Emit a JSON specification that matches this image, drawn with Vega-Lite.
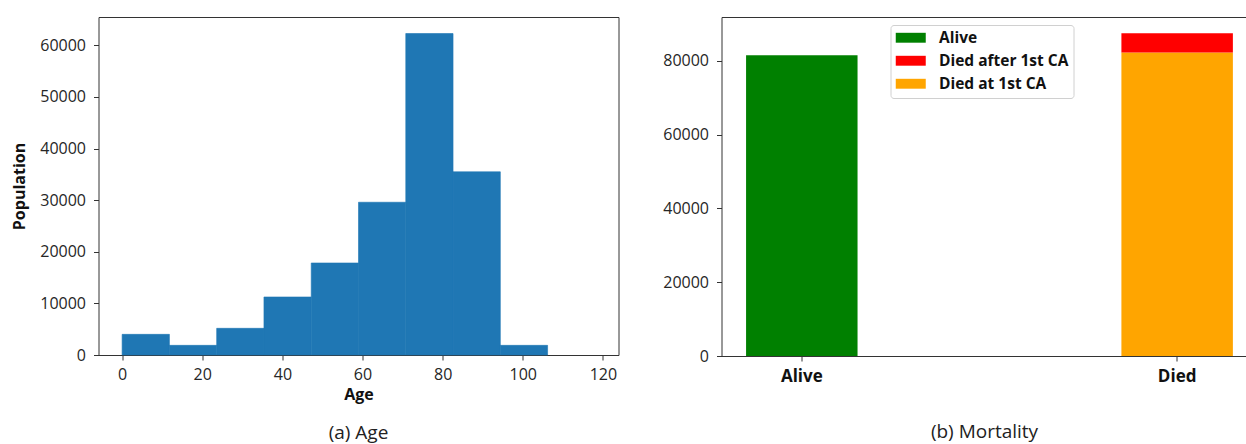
{
  "$schema": "https://vega.github.io/schema/vega-lite/v6.json",
  "padding": {"left": 10.5, "top": 16, "right": 0, "bottom": 0},
  "background": "white",
  "spacing": 43,
  "config": {
    "font": "Open Sans",
    "view": {"stroke": "#333333", "strokeWidth": 1},
    "axis": {
      "grid": false,
      "domain": false,
      "labelFont": "Open Sans",
      "labelFontSize": 16,
      "labelColor": "#262626",
      "tickColor": "#333333",
      "tickSize": 5,
      "tickWidth": 1,
      "titleFont": "Open Sans",
      "titleFontSize": 16,
      "titleFontWeight": "bold",
      "titleColor": "#111111"
    },
    "title": {"font": "Open Sans", "fontSize": 19, "fontWeight": "normal", "color": "#222222", "anchor": "middle"}
  },
  "datasets": {
    "ages": [
      {"age_start": 0, "age_end": 11.8, "count": 4000},
      {"age_start": 11.8, "age_end": 23.6, "count": 1870},
      {"age_start": 23.6, "age_end": 35.4, "count": 5170},
      {"age_start": 35.4, "age_end": 47.2, "count": 11240},
      {"age_start": 47.2, "age_end": 59.0, "count": 17830},
      {"age_start": 59.0, "age_end": 70.8, "count": 29600},
      {"age_start": 70.8, "age_end": 82.6, "count": 62300},
      {"age_start": 82.6, "age_end": 94.4, "count": 35500},
      {"age_start": 94.4, "age_end": 106.2, "count": 1870},
      {"age_start": 106.2, "age_end": 118.0, "count": 0}
    ],
    "mortality": [
      {"outcome": "Alive", "status": "Alive", "count": 81500},
      {"outcome": "Died", "status": "Died at 1st CA", "count": 82250},
      {"outcome": "Died", "status": "Died after 1st CA", "count": 5250}
    ]
  },
  "hconcat": [
    {
      "width": 520,
      "height": 338,
      "title": {"text": "(a) Age", "orient": "bottom", "offset": 22},
      "data": {"name": "ages"},
      "mark": {"type": "bar", "color": "#1f77b4", "stroke": "#1f77b4", "strokeWidth": 0.6},
      "encoding": {
        "x": {
          "field": "age_start",
          "type": "quantitative",
          "scale": {"domain": [-5.9, 123.9], "nice": false, "zero": false},
          "axis": {"values": [0, 20, 40, 60, 80, 100, 120], "title": "Age", "labelPadding": 6, "titlePadding": 4, "labelFlush": false}
        },
        "x2": {"field": "age_end"},
        "y": {
          "field": "count",
          "type": "quantitative",
          "scale": {"domain": [0, 65500], "nice": false},
          "axis": {"values": [0, 10000, 20000, 30000, 40000, 50000, 60000], "title": "Population", "labelPadding": 8, "titlePadding": 12, "format": "d"}
        },
        "y2": {"datum": 0},
        "strokeOpacity": {"condition": {"test": "datum.count == 0", "value": 0}, "value": 1}
      }
    },
    {
      "width": 526,
      "height": 339,
      "view": {"stroke": null},
      "title": {"text": "(b) Mortality", "orient": "bottom", "offset": 39},
      "data": {"name": "mortality"},
      "layer": [
        {
          "mark": {"type": "bar"},
          "encoding": {
            "x": {
              "field": "outcome",
              "type": "nominal",
              "scale": {"paddingInner": 0.703, "paddingOuter": 0.0522, "align": 0.627},
              "axis": {"orient": "bottom", "title": null, "labelAngle": 0, "labelFontWeight": "bold", "labelFontSize": 17, "labelColor": "#111111", "labelPadding": 7, "domain": true, "domainColor": "#333333"}
            },
            "y": {
              "field": "count",
              "type": "quantitative",
              "stack": "zero",
              "scale": {"domain": [0, 91900], "nice": false},
              "axis": {"values": [0, 20000, 40000, 60000, 80000], "title": null, "labelPadding": 8, "format": "d", "domain": true, "domainColor": "#333333"}
            },
            "color": {
              "field": "status",
              "type": "nominal",
              "scale": {"domain": ["Alive", "Died after 1st CA", "Died at 1st CA"], "range": ["#008000", "#ff0000", "#ffa500"]},
              "legend": {
                "orient": "none",
                "legendX": 792,
                "legendY": 8,
                "title": null,
                "symbolType": "M-1,-0.66H3V0.66H-1Z",
                "symbolSize": 225,
                "symbolStrokeWidth": 0,
                "labelFont": "Open Sans",
                "labelFontSize": 15.5,
                "labelFontWeight": "bold",
                "labelColor": "#111111",
                "labelOffset": 28,
                "labelExpr": "datum.label + '\u2003'",
                "padding": 5,
                "rowPadding": 6,
                "strokeColor": "#d0d0d0",
                "fillColor": "white",
                "cornerRadius": 3
              }
            },
            "order": {"field": "status", "sort": "descending"}
          }
        },
        {
          "mark": {"type": "bar", "opacity": 0},
          "encoding": {
            "x": {
              "field": "outcome",
              "type": "nominal",
              "axis": {"orient": "top", "title": null, "labels": false, "ticks": false, "domain": true, "domainColor": "#333333"}
            },
            "y": {"field": "count", "type": "quantitative"}
          }
        }
      ],
      "resolve": {"axis": {"x": "independent"}}
    }
  ]
}
